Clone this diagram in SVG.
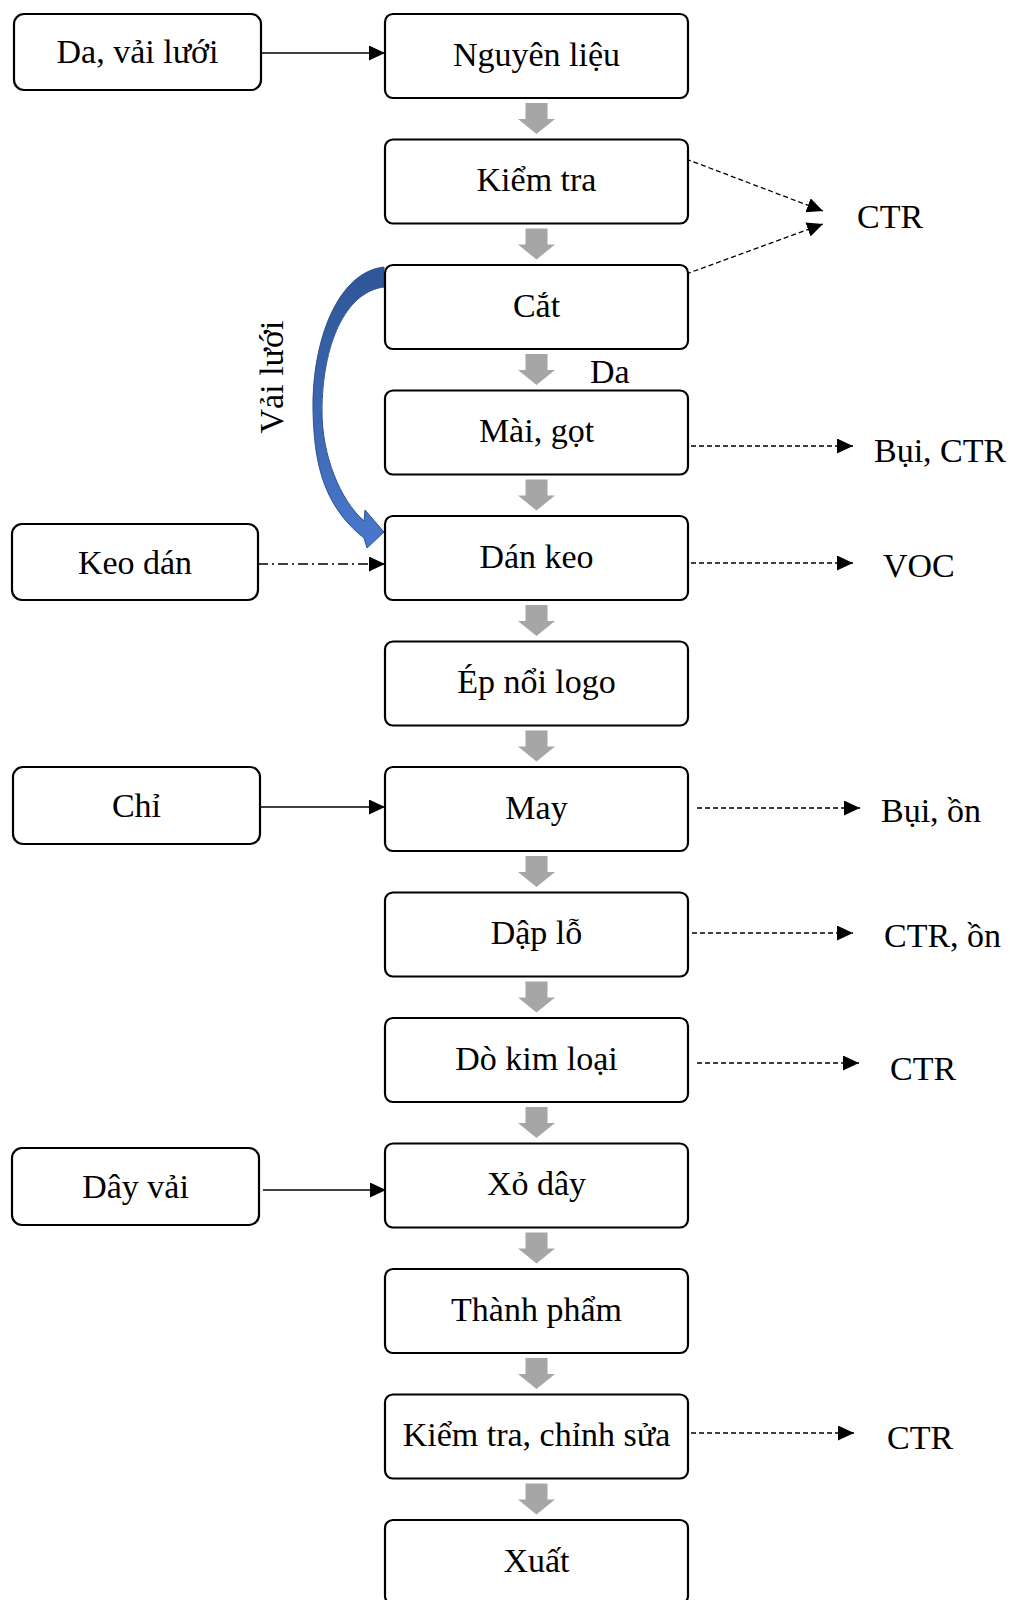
<svg xmlns="http://www.w3.org/2000/svg" width="1010" height="1600" viewBox="0 0 1010 1600">
<defs>
<style>
.box{fill:#fff;stroke:#000;stroke-width:2.2}
.t{font-family:"Liberation Serif","Times New Roman",serif;font-size:34px;fill:#000}
.m{text-anchor:middle}
.g{fill:#A6A6A6}
.sol{stroke:#000;stroke-width:1.3;fill:none}
.dash{stroke:#000;stroke-width:1.3;fill:none;stroke-dasharray:5 3}
.dd{stroke:#000;stroke-width:1.3;fill:none;stroke-dasharray:10 4 2 4}
</style>
<marker id="ah" markerUnits="userSpaceOnUse" markerWidth="17" markerHeight="16" refX="16" refY="7.5" orient="auto">
<path d="M0,0 L16,7.5 L0,15 Z" fill="#000"/>
</marker>
<linearGradient id="blue" x1="0" y1="0" x2="0" y2="1">
<stop offset="0" stop-color="#2E5597"/>
<stop offset="1" stop-color="#4A78CC"/>
</linearGradient>
<path id="garrow" d="M-11,0 H11 V16 H18.5 L0,31 L-18.5,16 H-11 Z"/>
</defs>

<g id="connectors">
<g class="g">
<use href="#garrow" x="536.5" y="103"/>
<use href="#garrow" x="536.5" y="228.5"/>
<use href="#garrow" x="536.5" y="354"/>
<use href="#garrow" x="536.5" y="479.5"/>
<use href="#garrow" x="536.5" y="605"/>
<use href="#garrow" x="536.5" y="730.5"/>
<use href="#garrow" x="536.5" y="856"/>
<use href="#garrow" x="536.5" y="981.5"/>
<use href="#garrow" x="536.5" y="1107"/>
<use href="#garrow" x="536.5" y="1232.5"/>
<use href="#garrow" x="536.5" y="1358"/>
<use href="#garrow" x="536.5" y="1483.5"/>
</g>
<line class="sol" x1="261" y1="53" x2="385" y2="53" marker-end="url(#ah)"/>
<line class="dd" x1="258" y1="564" x2="385" y2="564" marker-end="url(#ah)"/>
<line class="sol" x1="260" y1="807" x2="385" y2="807" marker-end="url(#ah)"/>
<line class="sol" x1="263" y1="1190" x2="386" y2="1190" marker-end="url(#ah)"/>
<line class="dash" x1="686" y1="159" x2="823" y2="211" marker-end="url(#ah)"/>
<line class="dash" x1="686" y1="274" x2="823" y2="224" marker-end="url(#ah)"/>
<line class="dash" x1="691" y1="446" x2="853" y2="446" marker-end="url(#ah)"/>
<line class="dash" x1="691" y1="563" x2="853" y2="563" marker-end="url(#ah)"/>
<line class="dash" x1="697" y1="808" x2="860" y2="808" marker-end="url(#ah)"/>
<line class="dash" x1="692" y1="933" x2="853" y2="933" marker-end="url(#ah)"/>
<line class="dash" x1="697" y1="1063" x2="859" y2="1063" marker-end="url(#ah)"/>
<line class="dash" x1="691" y1="1433" x2="854" y2="1433" marker-end="url(#ah)"/>
<path d="M384,267 C338,272 312,340 313,410 C314,460 322,505 364,538 L367,548 L384,532 L365,510 L364,521 C340,500 322,455 322,412 C322,345 345,292 384,287 Z" fill="url(#blue)" stroke="#2F528F" stroke-width="1"/>
</g>

<g id="labels" class="t">
<text x="857" y="228">CTR</text>
<text x="590" y="383">Da</text>
<text x="874" y="462">Bụi, CTR</text>
<text x="883" y="577">VOC</text>
<text x="881" y="822">Bụi, ồn</text>
<text x="884" y="947">CTR, ồn</text>
<text x="890" y="1080">CTR</text>
<text x="887" y="1449">CTR</text>
<text class="m" transform="translate(283,377) rotate(-90)">Vải lưới</text>
</g>

<g id="n-da-vai-luoi"><rect class="box" x="14" y="14" width="247" height="76" rx="10"/><text class="t m" x="137.5" y="63">Da, vải lưới</text></g>
<g id="n-keo-dan"><rect class="box" x="12" y="524" width="246" height="76" rx="10"/><text class="t m" x="135" y="573.5">Keo dán</text></g>
<g id="n-chi"><rect class="box" x="13" y="767" width="247" height="77" rx="10"/><text class="t m" x="136.5" y="817">Chỉ</text></g>
<g id="n-day-vai"><rect class="box" x="12" y="1148" width="247" height="77" rx="10"/><text class="t m" x="135.5" y="1198">Dây vải</text></g>

<g id="n-nguyen-lieu"><rect class="box" x="385" y="14" width="303" height="84" rx="8"/><text class="t m" x="536.5" y="65.5">Nguyên liệu</text></g>
<g id="n-kiem-tra"><rect class="box" x="385" y="139.5" width="303" height="84" rx="8"/><text class="t m" x="536.5" y="191">Kiểm tra</text></g>
<g id="n-cat"><rect class="box" x="385" y="265" width="303" height="84" rx="8"/><text class="t m" x="536.5" y="316.5">Cắt</text></g>
<g id="n-mai-got"><rect class="box" x="385" y="390.5" width="303" height="84" rx="8"/><text class="t m" x="536.5" y="442">Mài, gọt</text></g>
<g id="n-dan-keo"><rect class="box" x="385" y="516" width="303" height="84" rx="8"/><text class="t m" x="536.5" y="567.5">Dán keo</text></g>
<g id="n-ep-noi-logo"><rect class="box" x="385" y="641.5" width="303" height="84" rx="8"/><text class="t m" x="536.5" y="693">Ép nổi logo</text></g>
<g id="n-may"><rect class="box" x="385" y="767" width="303" height="84" rx="8"/><text class="t m" x="536.5" y="818.5">May</text></g>
<g id="n-dap-lo"><rect class="box" x="385" y="892.5" width="303" height="84" rx="8"/><text class="t m" x="536.5" y="944">Dập lỗ</text></g>
<g id="n-do-kim-loai"><rect class="box" x="385" y="1018" width="303" height="84" rx="8"/><text class="t m" x="536.5" y="1069.5">Dò kim loại</text></g>
<g id="n-xo-day"><rect class="box" x="385" y="1143.5" width="303" height="84" rx="8"/><text class="t m" x="536.5" y="1195">Xỏ dây</text></g>
<g id="n-thanh-pham"><rect class="box" x="385" y="1269" width="303" height="84" rx="8"/><text class="t m" x="536.5" y="1320.5">Thành phẩm</text></g>
<g id="n-kiem-tra-chinh-sua"><rect class="box" x="385" y="1394.5" width="303" height="84" rx="8"/><text class="t m" x="536.5" y="1446">Kiểm tra, chỉnh sửa</text></g>
<g id="n-xuat"><rect class="box" x="385" y="1520" width="303" height="84" rx="8"/><text class="t m" x="536.5" y="1571.5">Xuất</text></g>
</svg>
